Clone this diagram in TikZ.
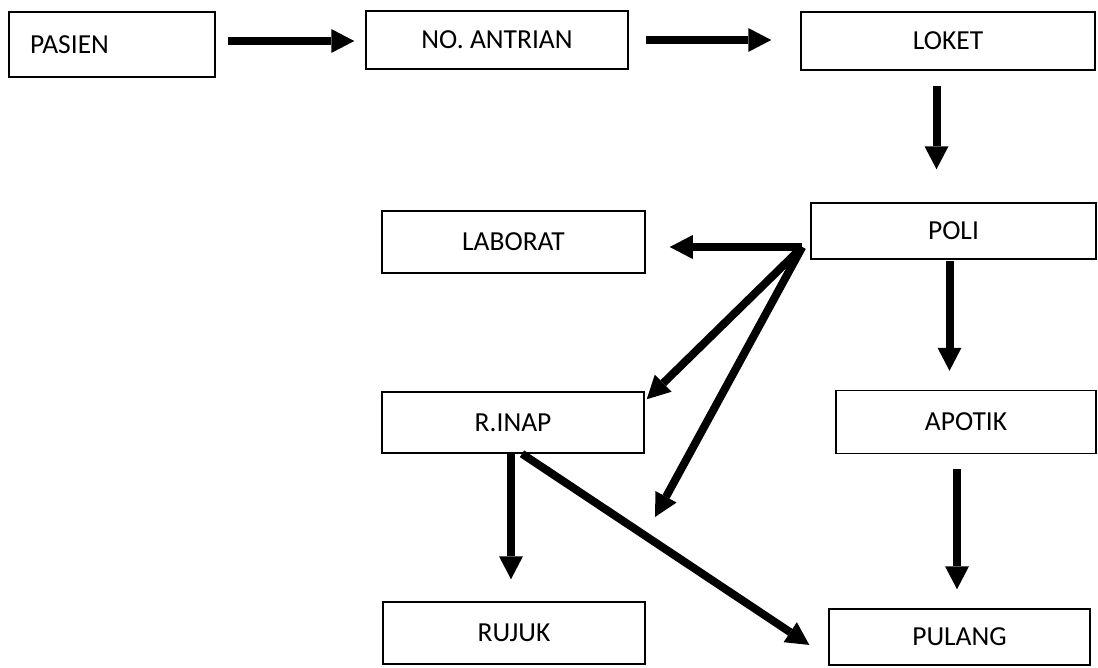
\documentclass[tikz,border=0pt]{standalone}
\usepackage{fontspec}
\setmainfont{Carlito}
\usetikzlibrary{arrows.meta}
\tikzset{kotak/.style={draw,rectangle,line width=1.5pt,inner sep=0,font=\fontsize{27.5}{32}\selectfont},
    panah/.style={line width=8pt,-{Triangle[length=23pt,width=24pt,line width=0pt]}}
}

\begin{document}
\begin{tikzpicture}[x=1pt,y=-1pt]

\useasboundingbox (0,0) rectangle (1098,667);

\node (pasien) at (112,44.5) [kotak,minimum width=206pt,minimum height=65pt] {PASIEN\hspace*{85pt}};
\node (antrian) at (497,40) [kotak,minimum width=262pt,minimum height=58pt] {NO. ANTRIAN};
\node (loket) at (948,41) [kotak,minimum width=294pt,minimum height=58pt] {LOKET};
\node (poli) at (953.5,231) [kotak,minimum width=285pt,minimum height=56pt] {POLI};
\node (laborat) at (513.5,242) [kotak,minimum width=263pt,minimum height=62pt] {LABORAT};
\node (rinap) at (513,422.5) [kotak,minimum width=262pt,minimum height=61pt] {R.INAP};
\node (apotik) at (966,422) [kotak,minimum width=260pt,minimum height=63pt] {APOTIK};
\node (rujuk) at (514,633) [kotak,minimum width=262pt,minimum height=62pt] {RUJUK};
\node (pulang) at (959.5,637) [kotak,minimum width=261pt,minimum height=56pt] {PULANG};

\draw [panah,shorten <=12pt,shorten >=11pt] ([yshift=3.5pt]pasien.east) -- ([yshift=3.5pt]pasien.east -| antrian.west);
\draw [panah,shorten <=17pt,shorten >=29pt] (antrian.east) -- (antrian.east -| loket.west);
\draw [panah,shorten <=15pt,shorten >=33pt] ([xshift=-11.5pt]loket.south) -- ([xshift=-11.5pt]loket.south |- poli.north);

% cabang dari poli
\coordinate (cabang) at ([xshift=-8pt,yshift=-16pt]poli.west);
\coordinate (ujung) at (655,517);
\draw [panah,shorten >=24pt] (cabang) -- (cabang -| laborat.east);
\draw [panah] (cabang) -- ([xshift=2pt,yshift=-8pt]rinap.north east);
\draw [panah] (cabang) -- (ujung);

\draw [panah,shorten <=1pt,shorten >=19pt] ([xshift=-4pt]poli.south) -- ([xshift=-4pt]poli.south |- apotik.north);
\draw [panah,shorten <=15pt,shorten >=19pt] ([xshift=-9pt]apotik.south) -- ([xshift=-9pt]apotik.south |- pulang.north);
\draw [panah,shorten >=22pt] ([xshift=-2pt]rinap.south) -- ([xshift=-2pt]rinap.south |- rujuk.north);
\draw [panah,shorten >=22.7pt] ([xshift=9pt]rinap.south) -- ([yshift=-20.5pt]pulang.west);

\end{tikzpicture}
\end{document}
